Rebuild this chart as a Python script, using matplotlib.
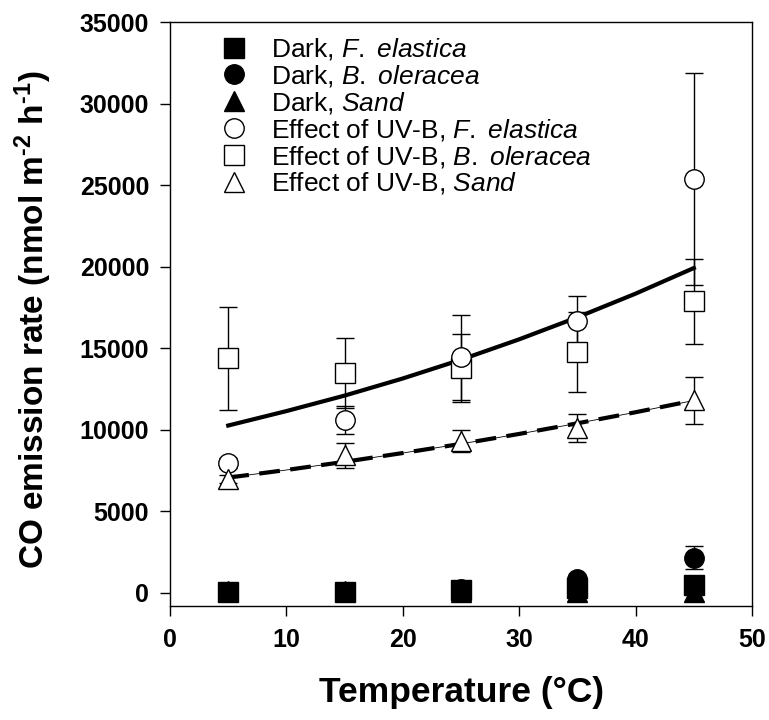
import numpy as np
import matplotlib.pyplot as plt
from matplotlib.lines import Line2D

plt.rcParams['font.family'] = ['Liberation Sans', 'DejaVu Sans']
plt.rcParams['mathtext.fontset'] = 'custom'
plt.rcParams['mathtext.rm'] = 'Liberation Sans'
plt.rcParams['mathtext.it'] = 'Liberation Sans:italic'
plt.rcParams['mathtext.bf'] = 'Liberation Sans:bold'

# temperatures (°C)
temp = [5, 15, 25, 35, 45]

# dark emission
dark_fe = [30, 40, 170, 330, 500]
dark_fe_err = [20, 20, 60, 100, 150]
dark_bo = [60, 70, 220, 850, 2150]
dark_bo_err = [30, 30, 80, 250, 700]
dark_sand = [150, 120, 60, 50, 30]
dark_sand_err = [20, 20, 20, 20, 20]

# effect of UV-B
uv_fe = [7950, 10600, 14450, 16650, 25380]
uv_fe_err = [300, 840, 2600, 1580, 6510]
uv_bo = [14400, 13480, 13790, 14770, 17870]
uv_bo_err = [3160, 2130, 2080, 2470, 2580]
uv_sand = [7000, 8440, 9340, 10130, 11800]
uv_sand_err = [250, 760, 680, 850, 1420]

# fitted curves
fit_t = [5, 10, 15, 20, 25, 30, 35, 40, 45]
fit_plants = [10265, 11150, 12100, 13150, 14300, 15550, 16900, 18350, 19920]
fit_sand = [7070, 7540, 8040, 8580, 9140, 9750, 10400, 11080, 11800]

fig = plt.figure(figsize=(7.69, 7.2), dpi=100)
ax = fig.add_axes([0.2211, 0.1583, 0.7568, 0.8111])

ms = 14
ebkw = dict(ecolor='black', elinewidth=1.0, capsize=6.5, capthick=1.0, linestyle='none')

ax.plot(fit_t, fit_plants, color='black', lw=3.0, zorder=2)
ax.plot(fit_t, fit_sand, color='black', lw=0.6, zorder=2)
ax.plot(fit_t, fit_sand, color='black', lw=3.0, ls=(0, (5, 2.5)), zorder=2)

ax.errorbar(temp, uv_bo, yerr=uv_bo_err, marker='s', ms=ms, mfc='white', mec='black', mew=1.0, zorder=3, **ebkw)
ax.errorbar(temp, uv_fe, yerr=uv_fe_err, marker='o', ms=ms, mfc='white', mec='black', mew=1.0, zorder=3, **ebkw)
ax.errorbar(temp, uv_sand, yerr=uv_sand_err, marker='^', ms=ms + 1, mfc='white', mec='black', mew=1.0, zorder=3, **ebkw)

ax.errorbar(temp, dark_bo, yerr=dark_bo_err, marker='o', ms=ms, mfc='black', mec='black', zorder=4, **ebkw)
ax.errorbar(temp, dark_sand, yerr=dark_sand_err, marker='^', ms=ms + 1, mfc='black', mec='black', zorder=4, **ebkw)
ax.errorbar(temp, dark_fe, yerr=dark_fe_err, marker='s', ms=ms, mfc='black', mec='black', zorder=4, **ebkw)

ax.set_xlim(0, 50)
ax.set_ylim(-800, 35000)
ax.set_xticks(np.arange(0, 51, 10))
ax.set_yticks(np.arange(0, 35001, 5000))
ax.tick_params(direction='out', length=7, width=1.0, labelsize=18, pad=8)
ax.tick_params(axis='x', pad=9)
for lab in ax.get_xticklabels() + ax.get_yticklabels():
    lab.set_fontweight('bold')
for s in ax.spines.values():
    s.set_linewidth(1.0)

ax.set_xlabel('Temperature (°C)', fontsize=25.5, fontweight='bold', labelpad=17)
ax.set_ylabel('CO emission rate (nmol m$^{\\mathbf{\u20102}}$ h$^{\\mathbf{\u20101}}$)', fontsize=24,
              fontweight='bold')
ax.yaxis.set_label_coords(-0.2, 0.49)

handles = [
    Line2D([], [], ls='none', marker='s', ms=ms, mfc='black', mec='black'),
    Line2D([], [], ls='none', marker='o', ms=ms, mfc='black', mec='black'),
    Line2D([], [], ls='none', marker='^', ms=ms + 1, mfc='black', mec='black'),
    Line2D([], [], ls='none', marker='o', ms=ms, mfc='white', mec='black'),
    Line2D([], [], ls='none', marker='s', ms=ms, mfc='white', mec='black'),
    Line2D([], [], ls='none', marker='^', ms=ms + 1, mfc='white', mec='black'),
]
labels = [
    r'Dark, $\mathit{F.}$ $\mathit{elastica}$',
    r'Dark, $\mathit{B.}$ $\mathit{oleracea}$',
    r'Dark, $\mathit{Sand}$',
    r'Effect of UV-B, $\mathit{F.}$ $\mathit{elastica}$',
    r'Effect of UV-B, $\mathit{B.}$ $\mathit{oleracea}$',
    r'Effect of UV-B, $\mathit{Sand}$',
]
ax.legend(handles, labels, loc='upper left', bbox_to_anchor=(0.06, 0.998), frameon=False,
          fontsize=19, handlelength=1.2, handletextpad=0.8, labelspacing=0.03, borderpad=0)

fig.savefig('out.png', dpi=100)
